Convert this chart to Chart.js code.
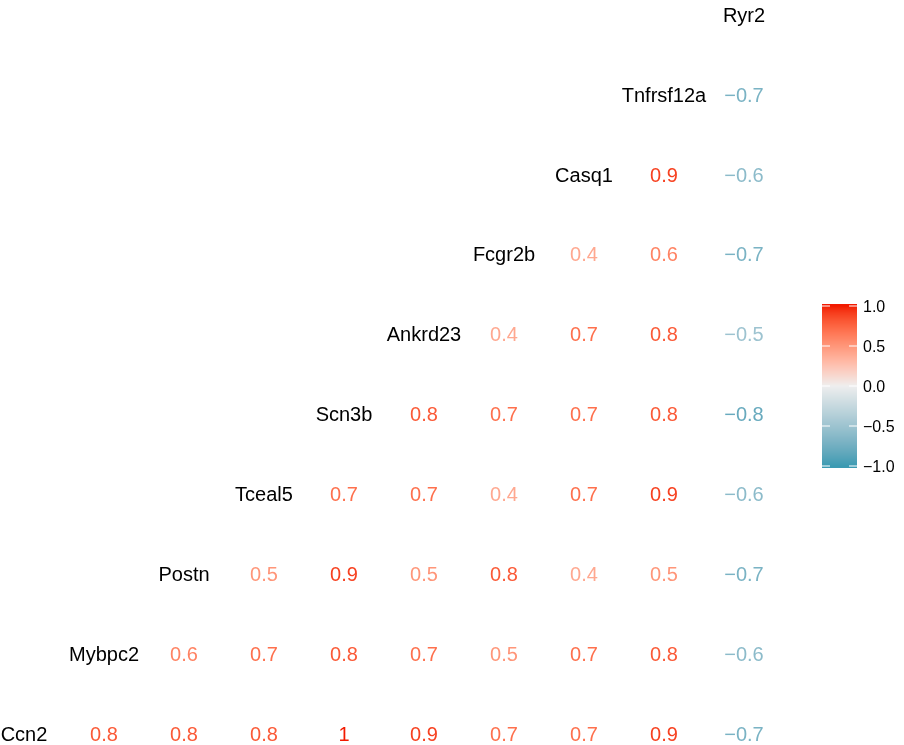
<!DOCTYPE html>
<html>
<head>
<meta charset="utf-8">
<script src="https://cdn.jsdelivr.net/npm/chart.js@4"></script>
<style>
  html, body { margin: 0; padding: 0; background: #fff; }
  #wrap { width: 904px; height: 745px; position: relative; }
</style>
</head>
<body>
<div id="wrap"><canvas id="corr"></canvas></div>
<script>
'use strict';

// variables in diagonal order, bottom-left to top-right
const variables = ['Ccn2', 'Mybpc2', 'Postn', 'Tceal5', 'Scn3b', 'Ankrd23', 'Fcgr2b', 'Casq1', 'Tnfrsf12a', 'Ryr2'];

// coefficients of each variable with the variables after it
const ccn2Row = [0.8, 0.8, 0.8, 1, 0.9, 0.7, 0.7, 0.9, -0.7];
const mybpc2Row = [0.6, 0.7, 0.8, 0.7, 0.5, 0.7, 0.8, -0.6];
const postnRow = [0.5, 0.9, 0.5, 0.8, 0.4, 0.5, -0.7];
const tceal5Row = [0.7, 0.7, 0.4, 0.7, 0.9, -0.6];
const scn3bRow = [0.8, 0.7, 0.7, 0.8, -0.8];
const ankrd23Row = [0.4, 0.7, 0.8, -0.5];
const fcgr2bRow = [0.4, 0.6, -0.7];
const casq1Row = [0.9, -0.6];
const tnfrsf12aRow = [-0.7];

const coefRows = [ccn2Row, mybpc2Row, postnRow, tceal5Row, scn3bRow, ankrd23Row, fcgr2bRow, casq1Row, tnfrsf12aRow];

const legendTicks = [1, 0.5, 0, -0.5, -1];

const lowColor = '#3B9AB2';
const midColor = '#EEEEEE';
const highColor = '#F21A00';

// --- Lab colour interpolation, like scales::gradient_n_pal
function hexToRgb(hex) {
    const n = parseInt(hex.slice(1), 16);
    return [(n >> 16) & 255, (n >> 8) & 255, n & 255];
}
function toLinear(c) {
    c /= 255;
    return c <= 0.04045 ? c / 12.92 : Math.pow((c + 0.055) / 1.055, 2.4);
}
function fromLinear(c) {
    const v = c <= 0.0031308 ? c * 12.92 : 1.055 * Math.pow(c, 1 / 2.4) - 0.055;
    return Math.max(0, Math.min(255, Math.round(v * 255)));
}
const WX = 0.95047, WY = 1, WZ = 1.08883;
function rgbToLab(rgb) {
    const [r, g, b] = rgb.map(toLinear);
    const x = (r * 0.4124 + g * 0.3576 + b * 0.1805) / WX;
    const y = (r * 0.2126 + g * 0.7152 + b * 0.0722) / WY;
    const z = (r * 0.0193 + g * 0.1192 + b * 0.9505) / WZ;
    const f = (t) => (t > 0.008856 ? Math.cbrt(t) : 7.787 * t + 16 / 116);
    const fx = f(x), fy = f(y), fz = f(z);
    return [116 * fy - 16, 500 * (fx - fy), 200 * (fy - fz)];
}
function labToRgb(lab) {
    const fy = (lab[0] + 16) / 116;
    const fx = fy + lab[1] / 500;
    const fz = fy - lab[2] / 200;
    const inv = (t) => (t ** 3 > 0.008856 ? t ** 3 : (t - 16 / 116) / 7.787);
    const x = inv(fx) * WX, y = inv(fy) * WY, z = inv(fz) * WZ;
    const r = x * 3.2406 - y * 1.5372 - z * 0.4986;
    const g = -x * 0.9689 + y * 1.8758 + z * 0.0415;
    const b = x * 0.0557 - y * 0.2040 + z * 1.0570;
    return [fromLinear(r), fromLinear(g), fromLinear(b)];
}
const labLow = rgbToLab(hexToRgb(lowColor));
const labMid = rgbToLab(hexToRgb(midColor));
const labHigh = rgbToLab(hexToRgb(highColor));

function coefColor(v) {
    const t = Math.max(-1, Math.min(1, v));
    const to = t >= 0 ? labHigh : labLow;
    const k = Math.abs(t);
    const lab = labMid.map((c, i) => c + (to[i] - c) * k);
    const [r, g, b] = labToRgb(lab);
    return `rgb(${r},${g},${b})`;
}

function formatCoef(v) {
    const s = String(Math.round(v * 10) / 10);
    return s.replace('-', '\u2212');
}

function formatTick(v) {
    return v.toFixed(1).replace('-', '\u2212');
}

// --- datasets
const labelPoints = variables.map((name, i) => ({ x: i, y: i, text: name }));
const coefPoints = [];
coefRows.forEach((row, i) => {
    row.forEach((v, k) => {
        coefPoints.push({ x: i + 1 + k, y: i, v });
    });
});

const FONT = '"Liberation Sans", Arial, Helvetica, sans-serif';
const CELL_SIZE = 20;

const textPlugin = {
    id: 'cellText',
    afterDatasetsDraw(chart) {
        const ctx = chart.ctx;
        // put the cap-height centre on the point
        const shift = CELL_SIZE * 0.716 / 2;
        ctx.save();
        ctx.textAlign = 'center';
        ctx.textBaseline = 'alphabetic';
        ctx.font = `${CELL_SIZE}px ${FONT}`;
        chart.data.datasets.forEach((ds, di) => {
            const meta = chart.getDatasetMeta(di);
            meta.data.forEach((el, idx) => {
                const p = ds.data[idx];
                if (ds.kind === 'label') {
                    ctx.fillStyle = '#000000';
                    ctx.fillText(p.text, el.x, el.y + shift);
                } else {
                    ctx.fillStyle = coefColor(p.v);
                    ctx.fillText(formatCoef(p.v), el.x, el.y + shift);
                }
            });
        });
        ctx.restore();
    }
};

const colorbarPlugin = {
    id: 'colorbar',
    afterDraw(chart) {
        const ctx = chart.ctx;
        const left = 822, width = 35;
        const top = 304, bottom = 468;
        const yHigh = 306, yLow = 466;
        const valueToY = (v) => yHigh + (1 - v) / 2 * (yLow - yHigh);
        ctx.save();
        for (let y = top; y < bottom; y += 1) {
            const v = 1 - 2 * (y + 0.5 - yHigh) / (yLow - yHigh);
            ctx.fillStyle = coefColor(v);
            ctx.fillRect(left, y, width, 1);
        }
        ctx.strokeStyle = '#ffffff';
        ctx.lineWidth = 1.2;
        ctx.font = `16px ${FONT}`;
        ctx.fillStyle = '#000000';
        ctx.textAlign = 'left';
        ctx.textBaseline = 'alphabetic';
        legendTicks.forEach((t) => {
            const y = valueToY(t);
            ctx.beginPath();
            ctx.moveTo(left, y);
            ctx.lineTo(left + 8, y);
            ctx.moveTo(left + width - 8, y);
            ctx.lineTo(left + width, y);
            ctx.stroke();
            ctx.fillText(formatTick(t), 863, y + 16 * 0.716 / 2);
        });
        ctx.restore();
    }
};

new Chart(document.getElementById('corr'), {
    type: 'scatter',
    data: {
        datasets: [
            { kind: 'label', data: labelPoints, pointRadius: 0 },
            { kind: 'coef', data: coefPoints, pointRadius: 0 }
        ]
    },
    options: {
        responsive: true,
        maintainAspectRatio: false,
        animation: false,
        layout: { padding: { left: 0, right: 104, top: 0, bottom: 0 } },
        scales: {
            x: { type: 'linear', min: -0.3, max: 9.7, display: false },
            y: { type: 'linear', min: -0.1376, max: 9.181, display: false }
        },
        plugins: {
            legend: { display: false },
            tooltip: { enabled: false }
        }
    },
    plugins: [textPlugin, colorbarPlugin]
});
</script>
</body>
</html>
